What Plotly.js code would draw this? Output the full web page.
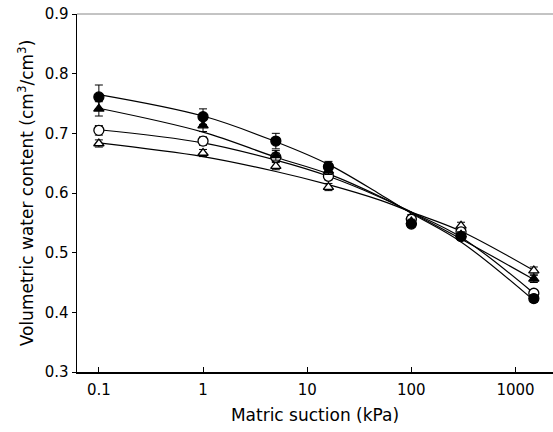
<!DOCTYPE html>
<html><head><meta charset="utf-8">
<script src="https://cdn.plot.ly/plotly-3.0.1.min.js"></script>
<style>html,body{margin:0;padding:0;background:#fff}</style>
</head><body><div id="chart" style="width:553px;height:432px"></div>
<script>
const suction = [0.1, 1, 5, 16, 100, 300, 1500];
const filledCircle = [0.761, 0.728, 0.687, 0.644, 0.548, 0.527, 0.423];
const filledCircleErr = [0.020, 0.013, 0.013, 0.009, 0.005, 0.006, 0.006];
const filledTri = [0.741, 0.713, 0.663, 0.637, 0.552, 0.530, 0.456];
const filledTriErr = [0.012, 0.010, 0.008, 0.006, 0.004, 0.005, 0.006];
const openCircle = [0.705, 0.687, 0.660, 0.628, 0.556, 0.535, 0.432];
const openCircleErr = [0.008, 0.007, 0.007, 0.006, 0.005, 0.005, 0.005];
const openTri = [0.683, 0.667, 0.645, 0.610, 0.560, 0.545, 0.470];
const openTriErr = [0.006, 0.006, 0.006, 0.006, 0.004, 0.006, 0.006];

const fitX = [0.1, 1, 5, 16, 50, 100, 300, 1500];
const fitFilledCircle = [0.765, 0.729, 0.686, 0.648, 0.598, 0.566, 0.518, 0.420];
const fitFilledTri = [0.742, 0.702, 0.660, 0.632, 0.594, 0.567, 0.523, 0.455];
const fitOpenCircle = [0.706, 0.684, 0.655, 0.628, 0.593, 0.568, 0.526, 0.432];
const fitOpenTri = [0.684, 0.661, 0.636, 0.614, 0.588, 0.568, 0.536, 0.470];

const xTicks = [0.1, 1, 10, 100, 1000];
const xTickText = ['0.1', '1', '10', '100', '1000'];
const yTicks = [0.3, 0.4, 0.5, 0.6, 0.7, 0.8, 0.9];

function fit(y){
  return {x: fitX, y: y, mode: 'lines', line: {color: '#000', width: 1.2, shape: 'spline'}, hoverinfo: 'skip', showlegend: false};
}
function pts(y, e, sym, fill){
  return {x: suction, y: y, mode: 'markers',
    marker: {symbol: sym, size: sym.indexOf('triangle') === 0 ? 9 : 10, color: fill, line: {color: '#000', width: 1.3}},
    error_y: {type: 'data', array: e, visible: true, color: '#000', thickness: 1, width: 4},
    showlegend: false};
}
const data = [
  fit(fitFilledCircle), fit(fitFilledTri), fit(fitOpenCircle), fit(fitOpenTri),
  pts(openTri, openTriErr, 'triangle-up', '#fff'),
  pts(openCircle, openCircleErr, 'circle', '#fff'),
  pts(filledTri, filledTriErr, 'triangle-up', '#000'),
  pts(filledCircle, filledCircleErr, 'circle', '#000')
];
const layout = {
  width: 553, height: 432,
  margin: {l: 77, r: 0, t: 14, b: 60},
  paper_bgcolor: '#fff', plot_bgcolor: '#fff',
  font: {family: 'DejaVu Sans, Liberation Sans, Arial, sans-serif', color: '#000', size: 15},
  xaxis: {type: 'log', range: [-1.21, 3.36], tickvals: xTicks, ticktext: xTickText,
    ticks: 'inside', ticklen: 5, tickcolor: '#000', showgrid: false, zeroline: false,
    showline: true, linecolor: '#000', linewidth: 1.5, ticklabelstandoff: 3,
    title: {text: 'Matric suction (kPa)', font: {size: 17}, standoff: 11}},
  yaxis: {range: [0.3, 0.9], tickvals: yTicks, tickformat: '.1f',
    ticks: 'outside', ticklen: 4, tickcolor: '#000', showgrid: false, zeroline: false,
    showline: true, linecolor: '#000', linewidth: 1.5,
    title: {text: 'Volumetric water content (cm<sup>3</sup>/cm<sup>3</sup>)', font: {size: 17}, standoff: 6}},
  shapes: [{type: 'line', xref: 'paper', yref: 'paper', x0: 0, x1: 1, y0: 1, y1: 1, line: {color: '#888', width: 1}}]
};
Plotly.newPlot('chart', data, layout, {displayModeBar: false, staticPlot: true});
</script></body></html>
